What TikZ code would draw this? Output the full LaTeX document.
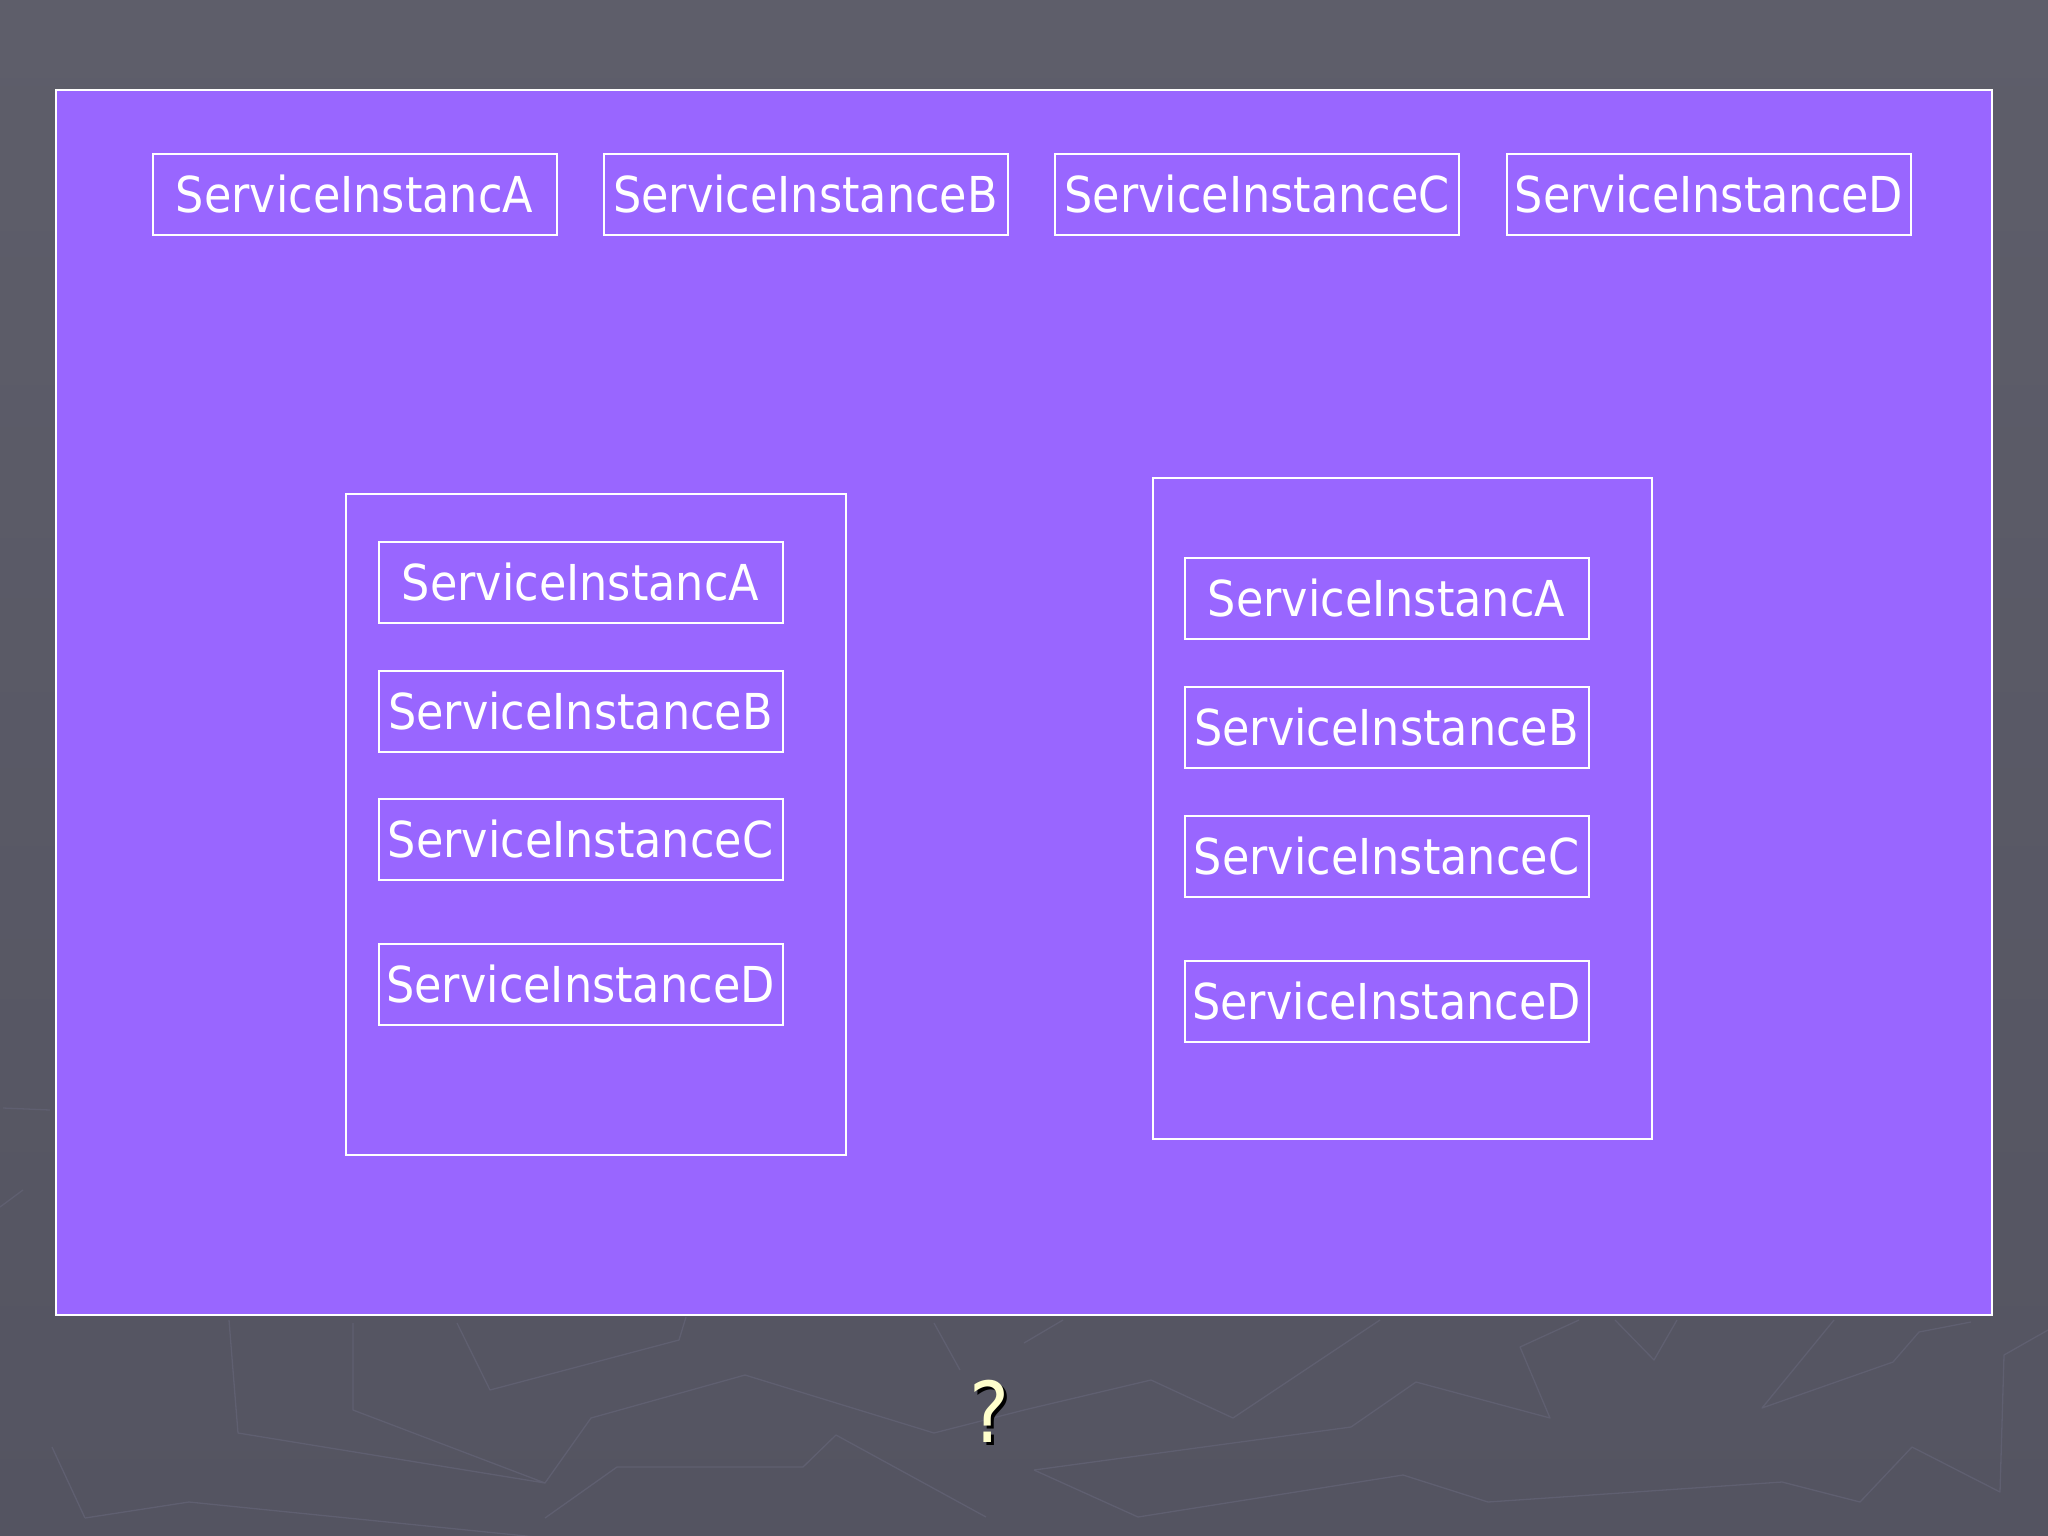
\documentclass[tikz,border=0pt]{standalone}
\usepackage{fontspec}
\setmainfont{DejaVu Sans}[FakeStretch=0.9]
\definecolor{bgtop}{HTML}{5E5E6A}
\definecolor{bgbot}{HTML}{545461}
\definecolor{purp}{HTML}{9966FF}
\definecolor{texc}{HTML}{5F5F70}
\definecolor{qcol}{HTML}{FFFFCC}
\begin{document}
\begin{tikzpicture}[x=1pt,y=-1pt,
  sibox/.style={draw=white, line width=2pt, minimum width=404pt, minimum height=81pt,
    inner sep=0pt, text=white, font=\fontsize{49.5}{58}\selectfont,
    text height=36pt, text depth=0pt},
  holder/.style={draw=white, line width=2pt, inner sep=0pt},
  tex/.style={draw=texc, line width=1.3pt, line join=round}]
\useasboundingbox (0,0) rectangle (2048,1536);
\fill[top color=bgtop, bottom color=bgbot] (0,0) rectangle (2048,1536);
% background texture
\draw[tex] (85,1518) -- (189,1502) -- (536,1537);
\draw[tex] (545,1518) -- (617,1467) -- (803,1467) -- (836,1435) -- (986,1517);
\draw[tex] (545,1483) -- (591,1418) -- (745,1375) -- (934,1433) -- (1024,1410);
\draw[tex] (229,1320) -- (238,1433) -- (545,1483) -- (353,1410) -- (353,1323);
\draw[tex] (52,1447) -- (85,1518);
\draw[tex] (457,1323) -- (490,1390) -- (679,1340) -- (686,1317);
\draw[tex] (960,1370) -- (934,1323);
\draw[tex] (1034,1470) -- (1351,1427) -- (1416,1382) -- (1550,1418) -- (1520,1347) -- (1579,1320);
\draw[tex] (1034,1470) -- (1138,1517) -- (1403,1475) -- (1488,1502) -- (1782,1482) -- (1860,1502) -- (1912,1447) -- (2000,1492) -- (2004,1355) -- (2048,1330);
\draw[tex] (1024,1410) -- (1151,1380) -- (1233,1418) -- (1380,1320);
\draw[tex] (1615,1320) -- (1654,1360) -- (1677,1320);
\draw[tex] (1834,1320) -- (1762,1408) -- (1893,1362) -- (1919,1332) -- (1971,1322);
\draw[tex] (1024,1343) -- (1063,1320);
\draw[tex] (3,1108) -- (50,1110);
\draw[tex] (0,1207) -- (23,1190);
% main panel
\node[holder, fill=purp, line width=2.5pt, minimum width=1936pt, minimum height=1225pt] (panel) at (1024,702.5) {};
% top row
\node[sibox] (tA) at (354.5,194.5) {ServiceInstancA};
\node[sibox] (tB) at (805.5,194.5) {ServiceInstanceB};
\node[sibox] (tC) at (1257,194.5) {ServiceInstanceC};
\node[sibox] (tD) at (1709,194.5) {ServiceInstanceD};
% left holder
\node[holder, minimum width=500pt, minimum height=661pt] (left) at (596,824.5) {};
\node[sibox] (lA) at (580.5,582.5) {ServiceInstancA};
\node[sibox] (lB) at (580.5,711.5) {ServiceInstanceB};
\node[sibox] (lC) at (580.5,839.5) {ServiceInstanceC};
\node[sibox] (lD) at (580.5,984.5) {ServiceInstanceD};
% right holder
\node[holder, minimum width=499pt, minimum height=661pt] (right) at (1402.5,808.5) {};
\node[sibox] (rA) at (1386.5,598.5) {ServiceInstancA};
\node[sibox] (rB) at (1386.5,727.5) {ServiceInstanceB};
\node[sibox] (rC) at (1386.5,856.5) {ServiceInstanceC};
\node[sibox] (rD) at (1386.5,1001.5) {ServiceInstanceD};
% question mark
\node[text=black, font=\fontsize{84}{94}\selectfont, inner sep=0pt] (qs) at (993,1414) {?};
\node[text=qcol, font=\fontsize{84}{94}\selectfont, inner sep=0pt] (q) at (990,1411) {?};
\end{tikzpicture}
\end{document}
